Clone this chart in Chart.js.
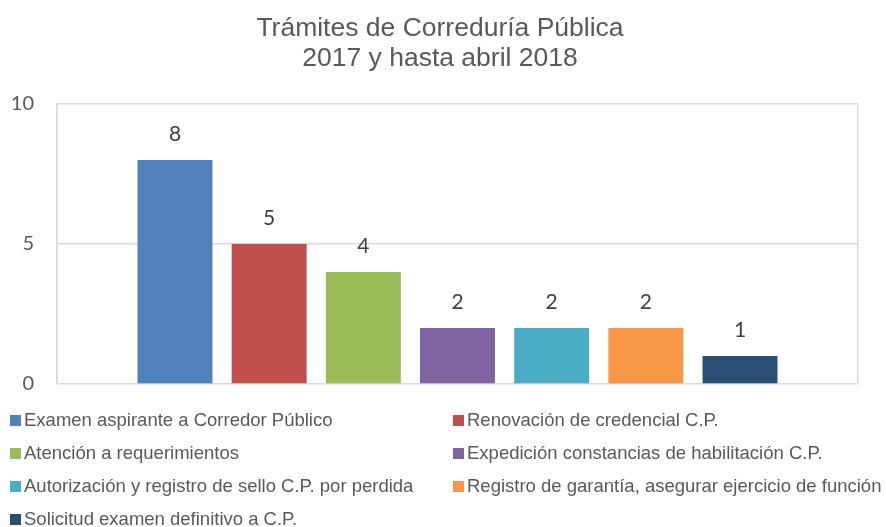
<!DOCTYPE html>
<html>
<head>
<meta charset="utf-8">
<script src="https://cdn.jsdelivr.net/npm/chart.js@4/dist/chart.umd.min.js"></script>
<style>
  html, body { margin: 0; padding: 0; background: #ffffff; }
  #wrap { position: relative; width: 886px; height: 527px; }
  #title { position: absolute; left: 0; top: 12px; width: 880px; text-align: center;
           font-family: "Liberation Sans", Arial, sans-serif; font-size: 26.5px; line-height: 30px; color: #595959; }
  #legend { position: absolute; left: 0; top: 0; width: 886px; height: 527px; pointer-events: none;
            font-family: "Liberation Sans", Arial, sans-serif; font-size: 18.5px; color: #595959; }
  .item { position: absolute; height: 22px; line-height: 22px; white-space: nowrap; display: flex; align-items: center; }
  .box { width: 11px; height: 11px; margin-right: 3px; flex: none; }
</style>
</head>
<body>
<div id="wrap">
  <canvas id="c" width="886" height="527"></canvas>
  <div id="title"></div>
  <div id="legend"></div>
</div>
<script>
const titleLines = ["Trámites de Correduría Pública", "2017 y hasta abril 2018"];
const categories = [""];
const seriesNames = [
  "Examen aspirante a Corredor Público",
  "Renovación de credencial C.P.",
  "Atención a requerimientos",
  "Expedición constancias de habilitación C.P.",
  "Autorización y registro de sello C.P. por perdida",
  "Registro de garantía, asegurar ejercicio de función",
  "Solicitud examen definitivo a C.P."
];
const seriesValues = [8, 5, 4, 2, 2, 2, 1];
const seriesColors = ["#4F81BD", "#C0504D", "#9BBB59", "#8064A2", "#4BACC6", "#F79646", "#2C4D75"];
const yTicks = [0, 5, 10];

const datasets = seriesNames.map((name, i) => ({
  label: name,
  data: [seriesValues[i]],
  backgroundColor: seriesColors[i],
  borderWidth: 0,
  categoryPercentage: 0.823,
  barPercentage: 0.796
}));

const valueLabels = {
  id: 'valueLabels',
  afterDatasetsDraw(chart) {
    const ctx = chart.ctx;
    ctx.save();
    ctx.font = '21px Lato, "Open Sans", sans-serif';
    ctx.fillStyle = '#404040';
    ctx.textAlign = 'center';
    ctx.textBaseline = 'middle';
    chart.data.datasets.forEach((ds, i) => {
      const meta = chart.getDatasetMeta(i);
      meta.data.forEach((bar, j) => {
        ctx.fillText(String(ds.data[j]), bar.x, bar.y - 26);
      });
    });
    ctx.restore();
  }
};

new Chart(document.getElementById('c'), {
  type: 'bar',
  data: { labels: categories, datasets },
  options: {
    responsive: false,
    animation: false,
    devicePixelRatio: 1,
    layout: { padding: { left: 0, right: 28, top: 104, bottom: 143 } },
    plugins: {
      legend: { display: false },
      tooltip: { enabled: false },
      title: { display: false }
    },
    scales: {
      x: {
        offset: true,
        ticks: { display: false },
        grid: { display: true, color: '#d9d9d9', lineWidth: 1.5, drawTicks: false, offset: true },
        border: { display: false }
      },
      y: {
        min: 0,
        max: 10,
        afterBuildTicks(scale) { scale.ticks = yTicks.map(v => ({ value: v })); },
        afterFit(scale) { scale.width = 57; },
        ticks: {
          color: '#595959',
          padding: 23,
          font: { family: 'Lato, "Open Sans", sans-serif', size: 20 }
        },
        grid: { color: '#d9d9d9', lineWidth: 1.5, drawTicks: false },
        border: { display: true, color: '#d9d9d9', width: 1.5 }
      }
    }
  },
  plugins: [valueLabels]
});

// Title (two lines)
const titleEl = document.getElementById('title');
titleLines.forEach(line => {
  const d = document.createElement('div');
  d.textContent = line;
  titleEl.appendChild(d);
});

// Legend (two columns, built from the series arrays)
const legend = document.getElementById('legend');
const colLeft = [10, 453];
const rowTop0 = 409, rowStep = 33;
seriesNames.forEach((name, i) => {
  const col = i % 2, row = Math.floor(i / 2);
  const el = document.createElement('div');
  el.className = 'item';
  el.style.left = colLeft[col] + 'px';
  el.style.top = (rowTop0 + row * rowStep) + 'px';
  const box = document.createElement('span');
  box.className = 'box';
  box.style.background = seriesColors[i];
  const txt = document.createElement('span');
  txt.textContent = name;
  el.appendChild(box);
  el.appendChild(txt);
  legend.appendChild(el);
});
</script>
</body>
</html>
